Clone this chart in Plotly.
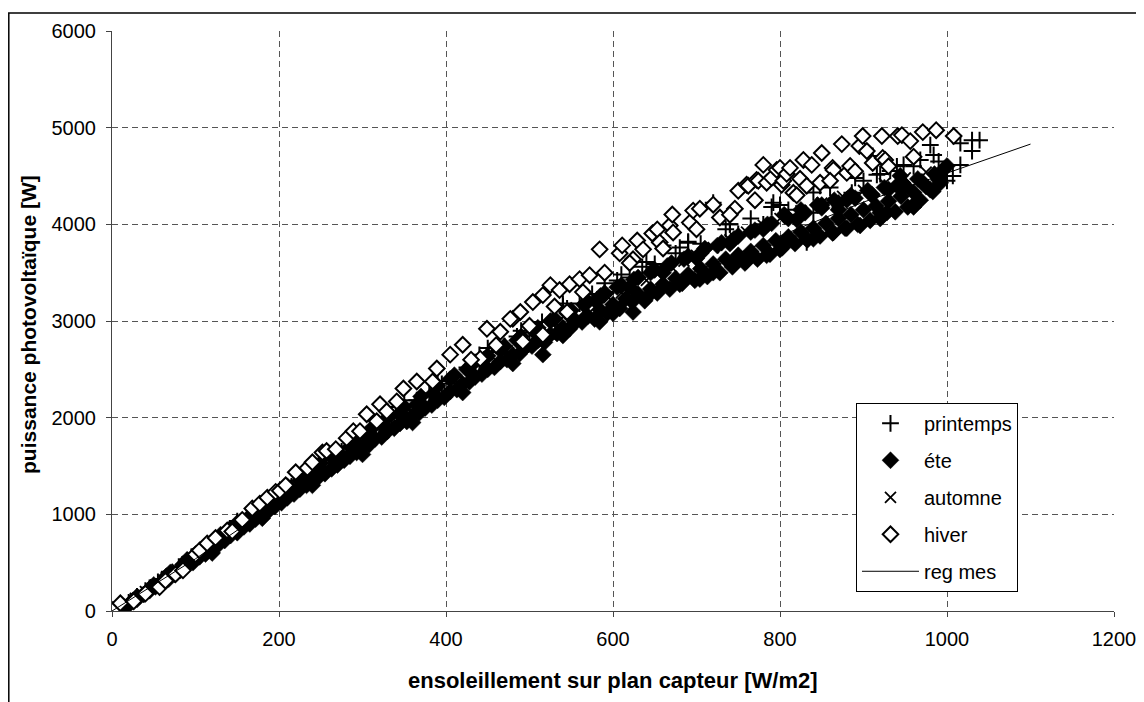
import plotly.graph_objects as go

# ---------------- data ----------------
printemps_x = [0, 5, 12, 20, 30, 45, 55, 70, 80, 95, 110, 125, 140, 155, 170, 185, 200, 215, 230, 245,
               260, 275, 290, 305, 320, 335, 350, 365, 380, 395, 410, 425, 440, 455, 470, 485, 500, 515,
               530, 545, 560, 575, 590, 605, 620, 635, 650, 660, 675, 690, 705, 720, 735, 750, 758, 765,
               780, 792, 810, 825, 832, 840, 848, 863, 886, 900, 911, 916, 932, 932, 948, 968, 980, 984,
               1000, 1007, 1016, 1016, 1030, 1030, 1039,
               60, 150, 250, 350, 450, 540, 610, 680, 740, 800, 860, 920, 960, 990,
               40, 90, 140, 190, 240, 290, 340, 390, 440, 490, 540, 590, 640, 690, 740, 790, 840, 890, 940]
printemps_y = [0, 0, 50, 90, 150, 240, 300, 380, 460, 560, 640, 740, 820, 920, 1010, 1110, 1200, 1290, 1380, 1480,
               1560, 1650, 1740, 1830, 1900, 2000, 2080, 2180, 2250, 2350, 2420, 2520, 2580, 2680, 2740, 2840, 2880, 2990,
               3030, 3130, 3180, 3280, 3300, 3420, 3450, 3560, 3590, 3782, 3700, 3820, 3800, 4224, 3950, 3900, 3638, 4060,
               4000, 4224, 4150, 4100, 3813, 4121, 4399, 4224, 4327, 4450, 4707, 4512, 4553, 4604, 4615, 4666, 4820, 4717,
               4450, 4501, 4615, 4840, 4758, 4871, 4871,
               330, 930, 1560, 2180, 2720, 3180, 3480, 3760, 4000, 4200, 4380, 4520, 4600, 4650,
               210, 520, 840, 1170, 1500, 1800, 2110, 2380, 2650, 2900, 3150, 3390, 3610, 3810, 4000, 4180, 4330, 4480, 4600]

ete_x = [0, 3, 8, 15, 22, 30, 38, 45, 52, 60, 68, 75, 82, 90, 97, 105, 112, 120, 128, 135, 142, 150, 158, 165,
         172, 180, 188, 195, 203, 210, 218, 225, 233, 240, 248, 255, 263, 270, 278, 285, 293, 300, 308, 315, 323,
         330, 338, 345, 353, 360, 368, 375, 383, 390, 398, 405, 413, 420, 428, 435, 443, 450, 458, 465, 473, 480,
         488, 495, 503, 510, 518, 525, 533, 540, 548, 555, 563, 570, 578, 585, 593, 600, 608, 615, 623, 630, 638,
         645, 653, 660, 668, 675, 683, 690, 698, 705, 713, 720, 728, 735, 743, 750, 758, 765, 773, 780, 788, 795,
         803, 810, 818, 825, 833, 840, 848, 855, 863, 870, 878, 885, 893, 900, 908, 915, 923, 930, 938, 945, 953,
         960, 968, 975, 983, 990, 995,
         550, 580, 620, 660, 700, 740, 780, 820, 850, 870, 880, 910, 920, 940, 960, 516, 584, 624, 704, 744, 784,
         808, 832, 864, 896, 928, 944, 980, 992, 1000,
         25, 45, 65, 85, 105, 125, 145, 165, 185, 205, 225, 245, 265, 285, 305, 325, 345, 365, 385, 405, 425,
         445, 465, 485, 505, 525, 545, 565, 585, 605, 625, 645, 665, 685, 705, 725, 745, 765, 785, 805, 825,
         845, 865, 885, 905, 925, 945, 965, 985,
         30, 50, 70, 90, 110, 130, 150, 170, 190, 210, 230, 250, 270, 290, 310, 330, 350, 370, 390, 410, 430,
         450, 470, 490, 510, 530, 550, 570, 590, 610, 630, 650, 670, 690, 710, 730, 750, 770, 790, 810, 830,
         850, 870, 890, 910, 930, 950, 970, 990,
         120, 180, 240, 300, 360, 420, 480, 540, 600, 640, 680, 720, 760, 800, 840, 880, 920, 960]
ete_y = [0, 0, 10, 40, 80, 120, 170, 210, 250, 290, 330, 380, 420, 470, 500, 560, 590, 650, 690, 730, 780, 810, 870, 900,
         950, 1000, 1040, 1080, 1120, 1170, 1210, 1260, 1300, 1340, 1390, 1420, 1470, 1510, 1560, 1600, 1640, 1690, 1720, 1780, 1800,
         1860, 1890, 1940, 1960, 2020, 2050, 2100, 2130, 2180, 2210, 2270, 2290, 2350, 2370, 2420, 2450, 2500, 2520, 2580, 2600, 2650,
         2660, 2730, 2740, 2800, 2780, 2860, 2870, 2930, 2920, 2990, 2990, 3050, 3020, 3110, 3080, 3170, 3130, 3230, 3200, 3280, 3210,
         3330, 3290, 3380, 3330, 3440, 3390, 3480, 3420, 3540, 3460, 3590, 3500, 3640, 3560, 3680, 3600, 3720, 3640, 3780, 3690, 3830,
         3760, 3870, 3800, 3920, 3840, 3960, 3880, 4010, 3910, 4060, 3960, 4100, 4000, 4150, 4040, 4190, 4090, 4240, 4130, 4290, 4180,
         4330, 4250, 4390, 4340, 4460, 4560,
         3050, 3200, 3350, 3500, 3650, 3800, 3950, 4050, 4200, 4150, 4250, 4300, 4120, 4400, 4200, 2652, 2991, 3093, 3433, 3577, 3679,
         3833, 3844, 3916, 3988, 4121, 4502, 4358, 4430, 4604,
         110, 230, 360, 480, 610, 730, 860, 980, 1100, 1230, 1350, 1460, 1580, 1700, 1810, 1930, 2030, 2140, 2250, 2400, 2500,
         2600, 2700, 2800, 2900, 3000, 3080, 3170, 3260, 3350, 3430, 3500, 3570, 3640, 3700, 3780, 3850, 3920, 4000, 4100, 4150,
         4200, 4250, 4300, 4350, 4380, 4420, 4470, 4520,
         150, 270, 400, 530, 660, 790, 910, 1040, 1160, 1290, 1410, 1530, 1650, 1770, 1880, 2000, 2110, 2220, 2330, 2440, 2540,
         2640, 2740, 2840, 2930, 3020, 3110, 3200, 3290, 3370, 3450, 3530, 3600, 3670, 3750, 3810, 3880, 3940, 4010, 4060, 4120,
         4170, 4220, 4270, 4310, 4360, 4400, 4440, 4480,
         600, 960, 1300, 1620, 1950, 2260, 2560, 2850, 3080, 3240, 3380, 3500, 3620, 3740, 3850, 3960, 4060, 4180]

automne_x = [0, 8, 18, 28, 40, 52, 65, 78, 90, 102, 115, 130, 145, 160, 175, 190, 205, 220, 235, 250, 265, 280,
             295, 310, 325, 340, 355, 370, 385, 400, 415, 430, 445, 460, 475, 490, 505, 520, 535, 550, 565, 580,
             595, 610, 625, 640, 655, 670, 685, 700, 720, 740, 760, 780, 800, 825, 850, 875, 900, 925, 950, 975]
automne_y = [0, 20, 70, 130, 200, 270, 350, 430, 510, 590, 670, 770, 860, 950, 1040, 1130, 1220, 1300, 1390, 1460, 1550, 1630,
             1720, 1800, 1880, 1960, 2040, 2120, 2200, 2290, 2360, 2440, 2520, 2590, 2670, 2740, 2820, 2880, 2950, 3020, 3100, 3160,
             3240, 3290, 3370, 3420, 3500, 3560, 3620, 3680, 3760, 3840, 3920, 3990, 4060, 4140, 4220, 4290, 4350, 4420, 4480, 4540]

hiver_x = [0, 1, 10, 26, 40, 57, 64, 76, 85, 100, 105, 114, 124, 138, 144, 156, 168, 177, 186, 196, 201, 208, 220,
           234, 240, 252, 257, 268, 281, 289, 297, 305, 317, 321, 329, 341, 349, 365, 384, 389, 405, 420, 441, 449,
           465, 480, 477, 489, 492, 504, 516, 516, 525, 536, 545, 548, 560, 564, 572, 584, 608, 611, 624, 629, 636,
           647, 653, 656, 668, 671, 672, 692, 696, 704, 720, 728, 746, 750, 760, 762, 772, 774, 780, 784, 790, 796,
           800, 802, 804, 808, 812, 816, 824, 828, 832, 838, 848, 850, 863, 864, 874, 880, 884, 895, 899, 904, 911,
           922, 923, 926, 941, 946, 956, 971, 987, 1008,
           430, 460, 500, 530, 590, 620, 660, 700, 740, 770, 820, 860, 890, 930, 960]
hiver_y = [0, 10, 80, 100, 180, 247, 313, 380, 420, 585, 627, 699, 755, 832, 823, 943, 1061, 1110, 1172, 1232, 1244, 1300, 1435,
           1480, 1538, 1640, 1655, 1674, 1788, 1860, 1860, 2035, 1963, 2138, 2066, 2168, 2302, 2374, 2374, 2508, 2652, 2754, 2610, 2919,
           2888, 3022, 3022, 3093, 2785, 3196, 2857, 3268, 3371, 3320, 3093, 3381, 3433, 3299, 3474, 3741, 3700, 3782, 3638, 3833, 3741,
           3905, 3947, 3813, 3988, 4101, 3916, 4018, 4142, 4162, 4203, 4070, 4162, 4347, 4409, 4399, 4460, 4450, 4615, 4430, 4481, 4563,
           4584, 4409, 4450, 4522, 4584, 4327, 4471, 4666, 4399, 4615, 4430, 4738, 4584, 4563, 4830, 4532, 4604, 4810, 4913, 4758, 4635,
           4913, 4687, 4666, 4913, 4923, 4861, 4954, 4974, 4913,
           2600, 2750, 2950, 3150, 3500, 3600, 3750, 3950, 4100, 4250, 4300, 4450, 4550, 4600, 4700]

reg_x = [0, 100, 200, 300, 400, 500, 600, 700, 800, 900, 1000, 1100]
reg_y = [0, 540, 1130, 1680, 2200, 2680, 3120, 3520, 3880, 4230, 4530, 4830]

x_ticks = [0, 200, 400, 600, 800, 1000, 1200]
y_ticks = [0, 1000, 2000, 3000, 4000, 5000, 6000]

# ---------------- figure ----------------
FONT = "Liberation Sans, Arial, sans-serif"
fig = go.Figure()

fig.add_trace(go.Scatter(x=printemps_x, y=printemps_y, mode="markers", name="printemps",
                         legendgroup="a",
                         marker=dict(symbol="cross-thin", size=12, color="black",
                                     line=dict(color="black", width=2))))
fig.add_trace(go.Scatter(x=ete_x, y=ete_y, mode="markers", name="éte",
                         legendgroup="b",
                         marker=dict(symbol="diamond", size=13, color="black",
                                     line=dict(color="black", width=0.5))))
fig.add_trace(go.Scatter(x=automne_x, y=automne_y, mode="markers", name="automne",
                         legendgroup="c",
                         marker=dict(symbol="x-thin", size=11, color="black",
                                     line=dict(color="black", width=1.8))))
fig.add_trace(go.Scatter(x=hiver_x, y=hiver_y, mode="markers", name="hiver",
                         legendgroup="d",
                         marker=dict(symbol="diamond", size=12, color="white",
                                     line=dict(color="black", width=2))))
fig.add_trace(go.Scatter(x=reg_x, y=reg_y, mode="lines", name="reg mes",
                         legendgroup="e", line=dict(color="black", width=1)))

axis_common = dict(
    showline=True, linecolor="#444444", linewidth=1.2,
    ticks="outside", ticklen=5, tickcolor="#444444",
    showgrid=True, gridcolor="#555555", gridwidth=1, griddash="6px,4px",
    zeroline=False, tickfont=dict(family=FONT, size=20, color="black"),
)

fig.update_xaxes(range=[0, 1200], tickvals=x_ticks, ticklabelstandoff=5, **axis_common)
fig.update_yaxes(range=[0, 6000], tickvals=y_ticks, ticklabelstandoff=6, **axis_common)

# the page adds an 8px body margin; margins compensate so the plot lands where the reference has it
L, T, PW, PH = 104, 19, 1002, 584
fig.update_layout(
    width=1144, height=702,
    margin=dict(l=L, r=1144 - L - PW, t=T, b=702 - T - PH),
    plot_bgcolor="white", paper_bgcolor="white",
    font=dict(family=FONT, color="black"),
    legend=dict(x=0.7425, y=0.359, xanchor="left", yanchor="top",
                bgcolor="white", bordercolor="black", borderwidth=1,
                font=dict(family=FONT, size=20, color="black"),
                traceorder="grouped", tracegroupgap=8, itemwidth=57),
    annotations=[
        dict(text="<b>ensoleillement sur plan capteur [W/m2]</b>", xref="paper", yref="paper",
             x=0.5, y=-70 / PH, xanchor="center", yanchor="middle", showarrow=False,
             font=dict(family=FONT, size=22, color="black")),
        dict(text="<b>puissance photovoltaïque [W]</b>", xref="paper", yref="paper",
             x=(29 - 112) / PW, y=(611 - 323) / PH, xanchor="center", yanchor="middle",
             textangle=-90, showarrow=False,
             font=dict(family=FONT, size=21, color="black")),
    ],
    shapes=[dict(type="rect", xref="paper", yref="paper",
                 x0=(0.8 - L) / PW, x1=(1131 - L) / PW,
                 y0=(T + PH - 720) / PH, y1=(T + PH - 0.8) / PH,
                 line=dict(color="black", width=1.5), fillcolor="rgba(0,0,0,0)", layer="below")],
)

fig.write_html("out.html")
